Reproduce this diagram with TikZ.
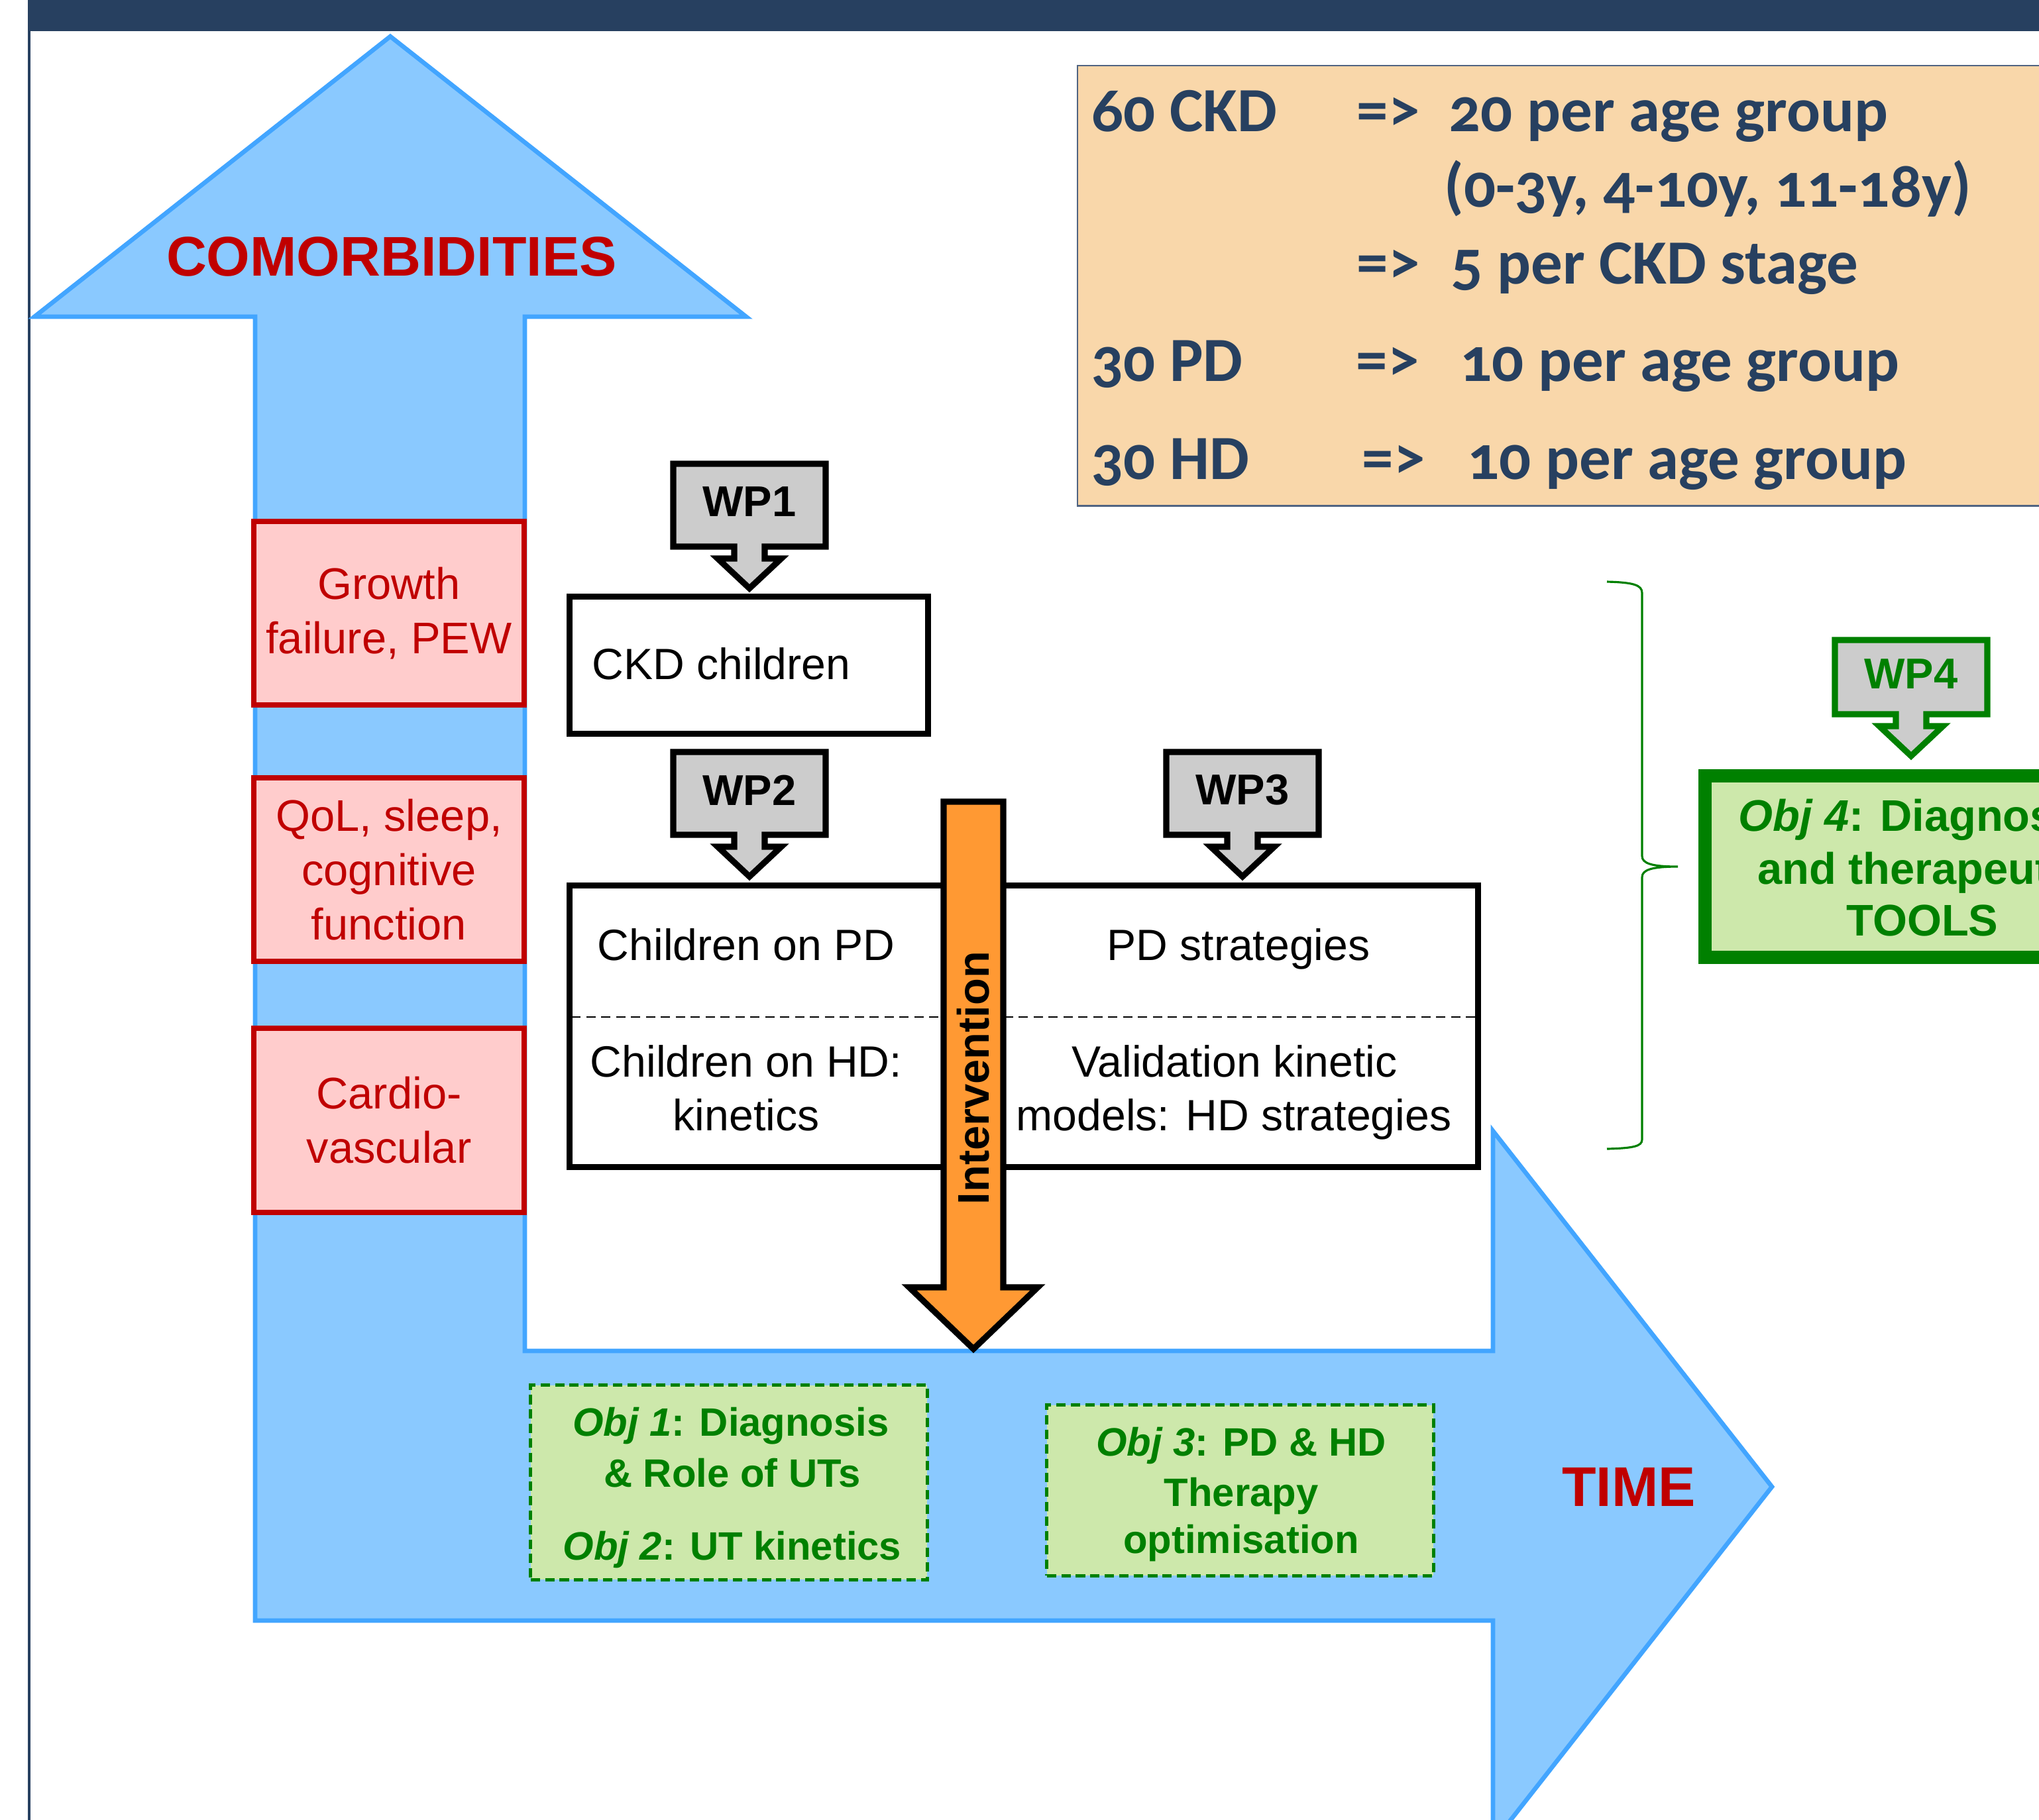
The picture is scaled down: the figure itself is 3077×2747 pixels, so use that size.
\documentclass[tikz,border=0pt]{standalone}
\usepackage{fontspec}
\setmainfont{Liberation Sans}
\newfontfamily\calfont[Numbers=OldStyle]{Carlito}
\definecolor{navy}{RGB}{39,64,96}
\definecolor{bluefill}{RGB}{138,201,255}
\definecolor{blueline}{RGB}{66,165,255}
\definecolor{redc}{RGB}{192,0,0}
\definecolor{pinkc}{RGB}{255,204,204}
\definecolor{grayc}{RGB}{204,204,204}
\definecolor{orangec}{RGB}{255,153,51}
\definecolor{peach}{RGB}{249,215,170}
\definecolor{greenc}{RGB}{0,128,0}
\definecolor{lgreen}{RGB}{205,232,171}
\definecolor{infoline}{RGB}{80,100,130}
\tikzset{
  bluearrow/.style={fill=bluefill, draw=blueline, line width=1.9pt, line join=miter},
  redbox/.style={draw=redc, fill=pinkc, line width=2.3pt, minimum width=4.08cm, text=redc, align=center, inner sep=0pt, font=\fontsize{19}{23.3}\selectfont},
  wpshape/.style={fill=grayc, line width=2.6pt, line join=miter},
  wptext/.style={font=\fontsize{18.5}{22}\selectfont\bfseries, inner sep=0pt},
  blackbox/.style={draw=black, line width=2.6pt, inner sep=0pt},
  lbl/.style={font=\fontsize{18.8}{23}\selectfont, inner sep=0pt, anchor=base},
  divider/.style={draw=black, line width=0.7pt, dash pattern=on 4pt off 2.4pt},
  orangearrow/.style={fill=orangec, draw=black, line width=2.6pt, line join=miter},
  greenbox/.style={draw=greenc, fill=lgreen, line width=1.4pt, dash pattern=on 4pt off 2.2pt, inner sep=0pt},
  objtext/.style={font=\fontsize{17}{20}\selectfont\bfseries, text=greenc, inner sep=0pt, anchor=base},
  obj4text/.style={font=\fontsize{19}{22}\selectfont\bfseries, text=greenc, inner sep=0pt, anchor=base},
  infotext/.style={font=\calfont\fontsize{27}{32}\selectfont\bfseries, text=navy, inner sep=0pt, anchor=base west},
  bigred/.style={font=\fontsize{24}{28}\selectfont\bfseries, text=redc, anchor=base, inner sep=0pt},
  bracestyle/.style={draw=greenc, line width=0.9pt},
}
% #1 cx, #2 top, #3 bottom, #4 colour, #5 name, #6 label
\newcommand\wpcall[6]{%
  \draw[wpshape, draw=#4] (#1-115,#2) -- (#1+115,#2) -- (#1+115,#3) -- (#1+23,#3) -- (#1+23,#3+18) -- (#1+48,#3+18) -- (#1,#3+63) -- (#1-48,#3+18) -- (#1-23,#3+18) -- (#1-23,#3) -- (#1-115,#3) -- cycle;
  \node[wptext, text=#4] (#5) at (#1,{(#2+#3)/2-5}) {#6};
}
\begin{document}
\begin{tikzpicture}[x=0.01cm,y=-0.01cm]
\useasboundingbox (0,0) rectangle (3077,2747);
\clip (0,0) rectangle (3077,2747);
\fill[white] (0,0) rectangle (3077,2747);
% frame
\fill[navy] (42,0) rectangle (3077,47);
\fill[navy] (42,0) rectangle (46,2747);
% L-shaped blue arrow
\draw[bluearrow] (589,55) -- (1126,478) -- (792,478) -- (792,2039) -- (2253,2039) -- (2253,1707) -- (2674,2244) -- (2253,2781) -- (2253,2446) -- (385,2446) -- (385,478) -- (52,478) -- cycle;
\node[bigred] (comorb) at (591,416) {COMORBIDITIES};
\node[bigred] (time) at (2458,2273) {TIME};
% comorbidity boxes
\node[redbox, minimum height=2.77cm] (growth) at (587,925.5) {Growth\\failure, PEW};
\node[redbox, minimum height=2.77cm] (qol) at (587,1312.5) {QoL, sleep,\\cognitive\\function};
\node[redbox, minimum height=2.78cm] (cardio) at (587,1691) {Cardio-\\vascular};
% WP callouts
\wpcall{1131}{700}{825}{black}{wp1}{WP1}
\wpcall{1131}{1135}{1260}{black}{wp2}{WP2}
\wpcall{1875}{1135}{1260}{black}{wp3}{WP3}
\wpcall{2884}{966}{1078}{greenc}{wp4}{WP4}
% CKD children box
\node[blackbox, minimum width=5.41cm, minimum height=2.075cm] (ckd) at (1130,1004) {};
\node[lbl, anchor=base west] (ckdlbl) at (893,1025) {CKD children};
% split box
\node[blackbox, minimum width=13.71cm, minimum height=4.25cm] (split) at (1545,1549) {};
\draw[divider] (862,1535) -- (2228,1535);
\node[lbl] (pd1) at (1126,1449) {Children on PD};
\node[lbl] (hd1) at (1126,1625) {Children on HD:};
\node[lbl] (hd2) at (1126,1706) {kinetics};
\node[lbl] (pd2) at (1869,1449) {PD strategies};
\node[lbl] (val1) at (1863,1625) {Validation kinetic};
\node[lbl] (val2) at (1862,1706) {models: HD strategies};
% intervention arrow
\draw[orangearrow] (1424,1210) -- (1514,1210) -- (1514,1943) -- (1566,1943) -- (1469,2036) -- (1372,1943) -- (1424,1943) -- cycle;
\node[font=\fontsize{19}{22}\selectfont\bfseries, rotate=90, inner sep=0pt] (interv) at (1469,1627) {Intervention};
% objective boxes
\node[greenbox, minimum width=5.98cm, minimum height=2.93cm] (obj1) at (1100,2237.5) {};
\node[objtext] (o1a) at (1103,2167) {\textit{Obj 1}: Diagnosis};
\node[objtext] (o1b) at (1105,2244) {\& Role of UTs};
\node[objtext] (o1c) at (1105,2354) {\textit{Obj 2}: UT kinetics};
\node[greenbox, minimum width=5.83cm, minimum height=2.57cm] (obj3) at (1871.5,2249.5) {};
\node[objtext] (o3a) at (1873,2197) {\textit{Obj 3}: PD \& HD};
\node[objtext] (o3b) at (1873,2273) {Therapy};
\node[objtext] (o3c) at (1873,2344) {optimisation};
% brace
\draw[bracestyle] (2425,878) .. controls (2465,879) and (2478,883) .. (2478,895) -- (2478,1292) .. controls (2478,1303) and (2492,1308) .. (2532,1308) .. controls (2492,1308) and (2478,1313) .. (2478,1324) -- (2478,1720) .. controls (2478,1730) and (2465,1733) .. (2425,1734);
% objective 4 (outer corner at 2563,1161)
\node[draw=greenc, fill=lgreen, line width=5.7pt, minimum width=6.5cm, minimum height=2.74cm, anchor=north west, inner sep=0pt] (obj4) at (2563,1161) {};
\node[obj4text] (o4a) at (2901,1254) {\textit{Obj 4}: Diagnostic};
\node[obj4text] (o4b) at (2901,1334) {and therapeutic};
\node[obj4text] (o4c) at (2901,1412) {TOOLS};
% info box
\node[draw=infoline, fill=peach, line width=0.6pt, minimum width=15cm, minimum height=6.64cm, anchor=north west, inner sep=0pt] (info) at (1625,98) {};
\node[infotext] (i1a) at (1647,198) {60 CKD};
\node[infotext] (i1b) at (2047,198) {=>};
\node[infotext] (i1c) at (2186,198) {20 per age group};
\node[infotext] (i2) at (2179,312) {(0-3y, 4-10y, 11-18y)};
\node[infotext] (i3b) at (2047,428) {=>};
\node[infotext] (i3c) at (2189,428) {5 per CKD stage};
\node[infotext] (i4a) at (1647,575) {30 PD};
\node[infotext] (i4b) at (2046,575) {=>};
\node[infotext] (i4c) at (2203,575) {10 per age group};
\node[infotext] (i5a) at (1647,723) {30 HD};
\node[infotext] (i5b) at (2055,723) {=>};
\node[infotext] (i5c) at (2214,723) {10 per age group};
\end{tikzpicture}
\end{document}
